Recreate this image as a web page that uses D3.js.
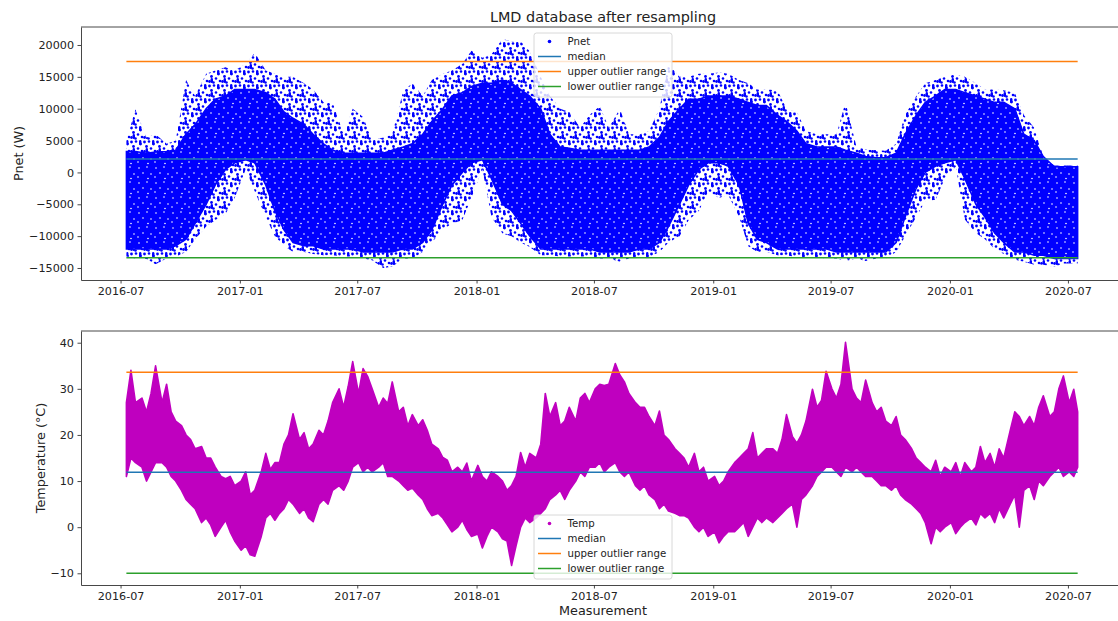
<!DOCTYPE html>
<html>
<head>
<meta charset="utf-8">
<script src="https://cdn.jsdelivr.net/npm/d3@7/dist/d3.min.js"></script>
<style>
  body { margin: 0; background: #fff; }
  svg { font-family: "DejaVu Sans", sans-serif; display: block; }
</style>
</head>
<body>
<div id="app"></div>
<script>
// ---- data ----
// x ticks
const xTickLabels = ["2016-07", "2017-01", "2017-07", "2018-01", "2018-07",
  "2019-01", "2019-07", "2020-01", "2020-07"];
const pnetTicks = [-15000, -10000, -5000, 0, 5000, 10000, 15000, 20000];
const tempTicks = [-10, 0, 10, 20, 30, 40];

// Pnet, half-month envelopes (W): min, lower edge of dense band, upper edge of dense band, max
const pnetDates = [
  "2016-07-10","2016-07-24","2016-08-10","2016-08-24","2016-09-10","2016-09-24",
  "2016-10-10","2016-10-24","2016-11-10","2016-11-24","2016-12-10","2016-12-24",
  "2017-01-10","2017-01-24","2017-02-10","2017-02-24","2017-03-10","2017-03-24",
  "2017-04-10","2017-04-24","2017-05-10","2017-05-24","2017-06-10","2017-06-24",
  "2017-07-10","2017-07-24","2017-08-10","2017-08-24","2017-09-10","2017-09-24",
  "2017-10-10","2017-10-24","2017-11-10","2017-11-24","2017-12-10","2017-12-24",
  "2018-01-10","2018-01-24","2018-02-10","2018-02-24","2018-03-10","2018-03-24",
  "2018-04-10","2018-04-24","2018-05-10","2018-05-24","2018-06-10","2018-06-24",
  "2018-07-10","2018-07-24","2018-08-10","2018-08-24","2018-09-10","2018-09-24",
  "2018-10-10","2018-10-24","2018-11-10","2018-11-24","2018-12-10","2018-12-24",
  "2019-01-10","2019-01-24","2019-02-10","2019-02-24","2019-03-10","2019-03-24",
  "2019-04-10","2019-04-24","2019-05-10","2019-05-24","2019-06-10","2019-06-24",
  "2019-07-10","2019-07-24","2019-08-10","2019-08-24","2019-09-10","2019-09-24",
  "2019-10-10","2019-10-24","2019-11-10","2019-11-24","2019-12-10","2019-12-24",
  "2020-01-10","2020-01-24","2020-02-10","2020-02-24","2020-03-10","2020-03-24",
  "2020-04-10","2020-04-24","2020-05-10","2020-05-24","2020-06-10","2020-06-24",
  "2020-07-10","2020-07-16"
];
const pnetMin = [
  -13200,-13500,-13600,-14400,-13500,-13200, -12500,-10500,-8500,-7500,-6500,-4000,
  500,-3000,-7000,-10000,-11500,-12500, -12500,-12800,-13000,-13000,-13200,-13200,
  -13500,-13800,-15000,-14800,-13500,-13500, -12500,-11000,-9000,-8000,-7500,-4000,
  500,-7000,-9600,-10000,-11000,-11700, -13000,-13000,-13200,-13200,-13200,-13200,
  -13500,-13500,-14000,-13500,-13300,-13300, -12500,-11000,-10000,-7500,-6000,-3000,
  -4000,-3500,-7000,-11600,-12500,-12500, -13000,-13000,-13300,-13300,-13300,-13500,
  -13500,-13900,-13500,-13900,-13500,-13500, -12500,-10000,-7000,-4500,-4300,-1000,
  900,-7400,-9500,-10500,-12000,-12800, -13700,-14000,-14500,-14500,-14800,-14300,
  -14300,-14300
];
const pnetLo = [
  -12000,-12000,-12000,-12000,-12000,-11500, -10500,-8000,-5000,-2000,500,1500,
  2000,1500,-2000,-6000,-9000,-11000, -11500,-11500,-12000,-12000,-12000,-12000,
  -12500,-12500,-12500,-12500,-12000,-12000, -11000,-9000,-5000,-2000,0,1500,
  2000,-1000,-5000,-6000,-8000,-10000, -12000,-12000,-12000,-12000,-12000,-12000,
  -12500,-12500,-12500,-12500,-12000,-12000, -11000,-8500,-5000,-2000,500,1500,
  1500,1000,-2000,-8000,-10500,-11000, -12000,-12000,-12000,-12000,-12000,-12000,
  -12500,-12500,-12500,-12500,-12500,-12500, -11000,-7000,-2500,0,1000,1500,
  2000,-1000,-5000,-7000,-9500,-11000, -12500,-12500,-13000,-13000,-13500,-13500,
  -13500,-13500
];
const pnetHi = [
  3300,3300,3000,3200,3300,3500, 6000,7500,10000,11500,12000,13000,
  13000,13000,12500,11500,9500,8500, 7500,6000,4500,3500,3000,3000,
  3000,3000,3000,3500,4000,4500, 6000,8000,10000,12000,12500,13500,
  14000,14000,14500,14000,13000,12000, 10000,6000,4000,3800,3500,3500,
  3500,3500,3500,3500,3500,4000, 5500,8000,10000,11500,11500,12000,
  12000,12000,11500,11000,10500,10500, 9000,8000,6500,4500,4000,4000,
  4000,3500,3000,2500,2300,2300, 3000,6000,9000,11000,12000,13000,
  13000,12500,12000,11500,11000,11000, 10000,6000,5000,2500,900,900,
  900,900
];
const pnetMax = [
  5000,9900,5500,6000,4500,5000, 14500,12000,15500,16000,16500,16000,
  17000,18800,16000,15500,15000,15000, 14000,13000,11000,11000,6000,10000,
  8700,5000,5500,6000,12800,14000, 12000,14500,15500,16000,17000,19100,
  18000,18500,21000,20500,20600,19000, 15000,12000,10000,9500,7000,9000,
  10400,7000,10000,6000,6000,6500, 10000,17000,15000,15000,15500,15500,
  15700,15500,14500,14000,13000,13000, 12900,10000,9500,6500,6000,6000,
  6000,11000,4000,3600,3500,3400, 4500,9000,12000,14000,14500,15000,
  15400,15000,14000,13000,13000,12900, 12500,9000,7000,2500,1100,1100,
  1100,1100
];
const pnetMedian = 2100, pnetUpper = 17400, pnetLower = -13400;

// Temperature, weekly envelopes (°C)
const tempDates = [
  "2016-07-10","2016-07-17","2016-07-24",
  "2016-08-03","2016-08-10","2016-08-17","2016-08-24",
  "2016-09-03","2016-09-10","2016-09-17","2016-09-24",
  "2016-10-03","2016-10-10","2016-10-17","2016-10-24",
  "2016-11-03","2016-11-10","2016-11-17","2016-11-24",
  "2016-12-03","2016-12-10","2016-12-17","2016-12-24",
  "2017-01-03","2017-01-10","2017-01-17","2017-01-24",
  "2017-02-03","2017-02-10","2017-02-17","2017-02-24",
  "2017-03-03","2017-03-10","2017-03-17","2017-03-24",
  "2017-04-03","2017-04-10","2017-04-17","2017-04-24",
  "2017-05-03","2017-05-10","2017-05-17","2017-05-24",
  "2017-06-03","2017-06-10","2017-06-17","2017-06-24",
  "2017-07-03","2017-07-10","2017-07-17","2017-07-24",
  "2017-08-03","2017-08-10","2017-08-17","2017-08-24",
  "2017-09-03","2017-09-10","2017-09-17","2017-09-24",
  "2017-10-03","2017-10-10","2017-10-17","2017-10-24",
  "2017-11-03","2017-11-10","2017-11-17","2017-11-24",
  "2017-12-03","2017-12-10","2017-12-17","2017-12-24",
  "2018-01-03","2018-01-10","2018-01-17","2018-01-24",
  "2018-02-03","2018-02-10","2018-02-17","2018-02-24",
  "2018-03-03","2018-03-10","2018-03-17","2018-03-24",
  "2018-04-03","2018-04-10","2018-04-17","2018-04-24",
  "2018-05-03","2018-05-10","2018-05-17","2018-05-24",
  "2018-06-03","2018-06-10","2018-06-17","2018-06-24",
  "2018-07-03","2018-07-10","2018-07-17","2018-07-24",
  "2018-08-03","2018-08-10","2018-08-17","2018-08-24",
  "2018-09-03","2018-09-10","2018-09-17","2018-09-24",
  "2018-10-03","2018-10-10","2018-10-17","2018-10-24",
  "2018-11-03","2018-11-10","2018-11-17","2018-11-24",
  "2018-12-03","2018-12-10","2018-12-17","2018-12-24",
  "2019-01-03","2019-01-10","2019-01-17","2019-01-24",
  "2019-02-03","2019-02-10","2019-02-17","2019-02-24",
  "2019-03-03","2019-03-10","2019-03-17","2019-03-24",
  "2019-04-03","2019-04-10","2019-04-17","2019-04-24",
  "2019-05-03","2019-05-10","2019-05-17","2019-05-24",
  "2019-06-03","2019-06-10","2019-06-17","2019-06-24",
  "2019-07-03","2019-07-10","2019-07-17","2019-07-24",
  "2019-08-03","2019-08-10","2019-08-17","2019-08-24",
  "2019-09-03","2019-09-10","2019-09-17","2019-09-24",
  "2019-10-03","2019-10-10","2019-10-17","2019-10-24",
  "2019-11-03","2019-11-10","2019-11-17","2019-11-24",
  "2019-12-03","2019-12-10","2019-12-17","2019-12-24",
  "2020-01-03","2020-01-10","2020-01-17","2020-01-24",
  "2020-02-03","2020-02-10","2020-02-17","2020-02-24",
  "2020-03-03","2020-03-10","2020-03-17","2020-03-24",
  "2020-04-03","2020-04-10","2020-04-17","2020-04-24",
  "2020-05-03","2020-05-10","2020-05-17","2020-05-24",
  "2020-06-03","2020-06-10","2020-06-17","2020-06-24",
  "2020-07-03","2020-07-10","2020-07-16"
];
const tempLo = [
  11, 15, 14,
  13, 10, 12, 14,   14, 13, 11, 10,   8, 6, 5, 4,   1, 2, 0.5, -2,   0, 1.5, -1, -3,
  -5, -4, -6, -6.3,   -2, 2, 3, 1.5,   3, 4, 6, 5,   3, 4, 2, 1.2,
  5, 6, 5, 8,   9, 8, 10, 13,   14, 12, 13, 12,   13, 14, 11, 11,
  10, 9, 8, 8.5,   7, 6, 4, 2.5,   3, 2, 0.5, -1,   0, 1.5, -0.5, -2,
  -1.5, -4.5, -2, 0,   -1, -2.5, -3, -8.3,   -4, 0, 2, 1,   2, 3, 4, 6,
  7, 8, 6, 8,   10, 12, 11, 13,   13, 14, 12, 13,   14, 12, 11, 12,
  9, 8, 9, 7,   6, 4, 5, 3.5,   3, 2.5, 2.5, 2,   0, -1, 0, -2,
  -1, -3.4, -2, -1,   -1, 0, 1, -2,   0, 2, 1, 2,   1, 2, 3, 4,
  5, 0, 6, 7,   9, 11, 12, 13,   13, 12, 11, 13,   12, 13, 12, 11,
  11, 10, 9, 9,   8, 9, 7, 6,   5, 4, 3, 1,   -3.6, 0, -1, 0,
  1, -1.4, 0, 1,   2, 0.5, 3, 2,   3, 1, 4, 2,   5, 7, 0, 8,
  9, 6, 10, 9,   11, 12, 13, 11,
  12, 11, 13
];
const tempHi = [
  27, 34, 27,
  28, 25, 29, 35,   27, 31, 25, 23,   22, 20, 19, 17,   17.5, 15, 15, 13,   11, 10.5, 11, 9,
  10, 12, 7, 8,   12, 16, 12.5, 14,   14, 18, 20, 24.6,   19, 20.5, 17, 18,
  21, 20, 23, 27,   30, 26, 30.5, 35.9,   29, 34.4, 32.7, 30,   26, 28, 26.8, 31.5,
  25, 26, 22, 24.4,   22, 23.3, 21, 18,   17, 15.1, 14.5, 12,   13, 12, 13.9, 10,
  13.4, 11, 10, 12,   11, 10, 8, 9,   11, 16.2, 13, 16,   15, 18, 29, 24,
  27, 22, 23, 26,   23, 28, 29, 27,   30, 31, 30.7, 31,   35.5, 33, 31.5, 29,
  27, 26, 26, 24,   22, 25.2, 20, 19,   17, 16, 15, 13,   16, 12, 13, 10,
  11, 9, 10, 12,   14, 15, 16, 17,   20.5, 15, 16, 17,   17, 16, 19, 24.4,
  19.7, 18.2, 20, 23,   29.9, 26, 27.5, 33.8,   30, 28, 31, 40.1,   30, 28, 27, 31.9,
  27, 25, 26, 23,   22, 24, 20, 19,   17, 15, 14, 13,   12, 14.5, 11, 13,
  12, 14, 11, 14,   12, 13, 17.5, 14,   16, 13, 17, 15,   21, 25, 24, 22,
  24, 22, 26, 28.5,   24, 25, 30, 32.8,
  27, 29.9, 25
];
const tempMedian = 11.9, tempUpper = 33.6, tempLower = -10;

// ---- layout ----
const width = 1118, height = 621;
const pTop = { top: 27, bottom: 280 };
const pBot = { top: 331, bottom: 585 };
const left = 81, right = 1125;

const parse = d3.timeParse("%Y-%m-%d");
const parseMonth = d3.timeParse("%Y-%m");
const minus = d => d < 0 ? "\u2212" + Math.abs(d) : String(d);

const x = d3.scaleTime()
  .domain([parse("2016-05-01"), parse("2020-09-27")])
  .range([left, right]);
const yP = d3.scaleLinear().domain([-16884, 22825]).range([pTop.bottom, pTop.top]);
const yT = d3.scaleLinear().domain([-12.54, 42.54]).range([pBot.bottom, pBot.top]);

const pnet = pnetDates.map((d, i) => ({
  date: parse(d), min: pnetMin[i], lo: pnetLo[i], hi: pnetHi[i], max: pnetMax[i]
}));
const temp = tempDates.map((d, i) => ({ date: parse(d), lo: tempLo[i], hi: tempHi[i] }));

const svg = d3.select("#app").append("svg")
  .attr("width", width).attr("height", height);

const defs = svg.append("defs");
// texture for the sparse part of the scatter: loose dots and short vertical streaks
const pat = defs.append("pattern").attr("id", "dotsB")
  .attr("width", 13).attr("height", 14).attr("patternUnits", "userSpaceOnUse");
[[1.5, 2, 1.4], [6, 1.5, 1.3], [10.5, 4, 1.4], [3.5, 6.5, 1.4], [8, 8.5, 1.3],
 [12, 11, 1.3], [1.5, 11.5, 1.4], [5.5, 12.5, 1.3]].forEach(c =>
  pat.append("circle").attr("cx", c[0]).attr("cy", c[1]).attr("r", c[2]).attr("fill", "#0000ff"));
pat.append("rect").attr("x", 9).attr("y", 0).attr("width", 2.4).attr("height", 5)
  .attr("rx", 1.2).attr("fill", "#0000ff");
pat.append("rect").attr("x", 2.6).attr("y", 8).attr("width", 2.4).attr("height", 5)
  .attr("rx", 1.2).attr("fill", "#0000ff");
// texture for the dense part: solid blue with a few white gaps
const patD = defs.append("pattern").attr("id", "denseB")
  .attr("width", 17).attr("height", 15).attr("patternUnits", "userSpaceOnUse");
patD.append("rect").attr("width", 17).attr("height", 15).attr("fill", "#0000ff");
[[3, 3], [11, 2], [7, 8], [15, 9], [2, 12], [12, 13.5]].forEach(c =>
  patD.append("circle").attr("cx", c[0]).attr("cy", c[1]).attr("r", 0.8).attr("fill", "#ffffff"));

[["clipTop", pTop], ["clipBot", pBot]].forEach(([id, p]) => {
  defs.append("clipPath").attr("id", id).append("rect")
    .attr("x", left).attr("y", p.top).attr("width", right - left).attr("height", p.bottom - p.top);
});

// ---- top panel: Pnet ----
const gTop = svg.append("g");
const plotTop = gTop.append("g").attr("clip-path", "url(#clipTop)");

const band = (y, a, b) => d3.area().x(d => x(d.date)).y0(d => y(d[a])).y1(d => y(d[b]));

plotTop.append("path").datum(pnet).attr("d", band(yP, "min", "lo"))
  .attr("fill", "url(#dotsB)");
plotTop.append("path").datum(pnet).attr("d", band(yP, "hi", "max"))
  .attr("fill", "url(#dotsB)");
plotTop.append("path").datum(pnet).attr("d", band(yP, "lo", "hi"))
  .attr("fill", "url(#denseB)").attr("stroke", "#0000ff").attr("stroke-width", 1.5);

const x0 = x(parse(pnetDates[0])), x1 = x(parse(pnetDates[pnetDates.length - 1]));
function hlines(g, y, vals) {
  const cols = ["#1f77b4", "#ff7f0e", "#2ca02c"];
  vals.forEach((v, i) => {
    g.append("line").attr("x1", x0).attr("x2", x1)
      .attr("y1", y(v)).attr("y2", y(v))
      .attr("stroke", cols[i]).attr("stroke-width", 1.5);
  });
}
hlines(plotTop, yP, [pnetMedian, pnetUpper, pnetLower]);

// ---- bottom panel: Temperature ----
const gBot = svg.append("g");
const plotBot = gBot.append("g").attr("clip-path", "url(#clipBot)");
plotBot.append("path").datum(temp).attr("d", band(yT, "lo", "hi"))
  .attr("fill", "#bf00bf").attr("stroke", "#bf00bf").attr("stroke-width", 1.6)
  .attr("stroke-linejoin", "round");
hlines(plotBot, yT, [tempMedian, tempUpper, tempLower]);

// ---- axes ----
const xTicks = xTickLabels.map(parseMonth);
function drawAxes(g, y, p, ticks) {
  const ax = g.append("g").attr("transform", `translate(0,${p.bottom})`)
    .call(d3.axisBottom(x).tickValues(xTicks).tickFormat(d3.timeFormat("%Y-%m"))
      .tickSize(3.5).tickPadding(3.5).tickSizeOuter(0));
  const ay = g.append("g").attr("transform", `translate(${left},0)`)
    .call(d3.axisLeft(y).tickValues(ticks).tickFormat(minus)
      .tickSize(3.5).tickPadding(3.5).tickSizeOuter(0));
  [ax, ay].forEach(a => {
    a.selectAll("text").attr("font-size", 11.2).attr("fill", "#222")
      .attr("font-family", "DejaVu Sans");
    a.selectAll("line").attr("stroke", "#333").attr("stroke-width", 0.9);
    a.select(".domain").attr("stroke", "#333").attr("stroke-width", 0.9);
  });
  g.append("line").attr("x1", left).attr("x2", right)
    .attr("y1", p.top).attr("y2", p.top)
    .attr("stroke", "#333").attr("stroke-width", 0.9);
}
drawAxes(gTop, yP, pTop, pnetTicks);
drawAxes(gBot, yT, pBot, tempTicks);

// ---- legends ----
function legend(g, top, label, color) {
  const lx = 534, w = 138, rowH = 15;
  const lg = g.append("g");
  lg.append("rect").attr("x", lx).attr("y", top).attr("width", w).attr("height", 64)
    .attr("rx", 2.5).attr("fill", "#fff").attr("fill-opacity", 0.8)
    .attr("stroke", "#d4d4d4").attr("stroke-width", 0.9);
  const items = [
    { t: label, c: color, dot: true },
    { t: "median", c: "#1f77b4" },
    { t: "upper outlier range", c: "#ff7f0e" },
    { t: "lower outlier range", c: "#2ca02c" }
  ];
  items.forEach((it, i) => {
    const cy = top + 8.5 + i * rowH;
    if (it.dot) {
      lg.append("circle").attr("cx", lx + 15.5).attr("cy", cy).attr("r", 1.8).attr("fill", it.c);
    } else {
      lg.append("line").attr("x1", lx + 4).attr("x2", lx + 27).attr("y1", cy).attr("y2", cy)
        .attr("stroke", it.c).attr("stroke-width", 1.5);
    }
    lg.append("text").attr("x", lx + 33.5).attr("y", cy + 3.6)
      .attr("font-size", 10.2).attr("fill", "#222").text(it.t);
  });
}
legend(gTop, 33, "Pnet", "#0000ff");
legend(gBot, 515, "Temp", "#bf00bf");

// ---- titles and labels ----
svg.append("text").attr("x", 603).attr("y", 22).attr("text-anchor", "middle")
  .attr("font-size", 14.4).attr("fill", "#222").text("LMD database after resampling");
svg.append("text").attr("x", 603).attr("y", 614.5).attr("text-anchor", "middle")
  .attr("font-size", 12.8).attr("fill", "#222").text("Measurement");
svg.append("text").attr("transform", `translate(22.6,${(pTop.top + pTop.bottom) / 2}) rotate(-90)`)
  .attr("text-anchor", "middle").attr("font-size", 12.8).attr("fill", "#222").text("Pnet (W)");
svg.append("text").attr("transform", `translate(44.6,${(pBot.top + pBot.bottom) / 2}) rotate(-90)`)
  .attr("text-anchor", "middle").attr("font-size", 12.8).attr("fill", "#222").text("Temperature (°C)");
</script>
</body>
</html>
